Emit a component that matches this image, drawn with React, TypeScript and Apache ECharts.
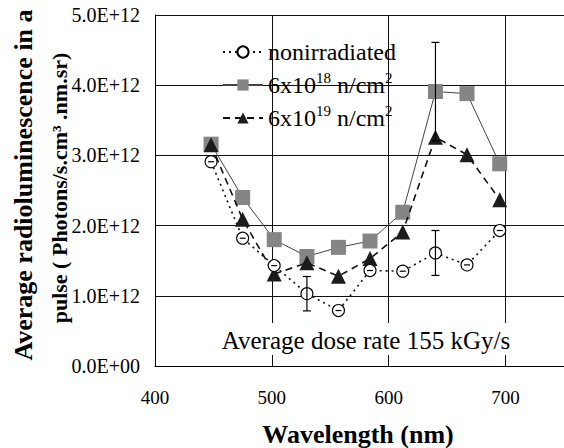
import React, { useEffect, useRef } from "react";
import * as echarts from "echarts";

// Wavelength (nm) of each measurement
const wavelengths = [448, 475, 502, 530, 557, 584, 612, 640, 667, 695];
// Average radioluminescence in a pulse (photons/s.cm3.nm.sr)
const nonirradiated = [2.91e12, 1.82e12, 1.43e12, 1.03e12, 0.79e12, 1.36e12, 1.35e12, 1.61e12, 1.44e12, 1.93e12];
const fluence18 = [3.16e12, 2.4e12, 1.8e12, 1.56e12, 1.69e12, 1.78e12, 2.19e12, 3.91e12, 3.88e12, 2.88e12];
const fluence19 = [3.15e12, 2.09e12, 1.31e12, 1.47e12, 1.28e12, 1.53e12, 1.91e12, 3.26e12, 3.01e12, 2.37e12];
// Error bars (half-length)
const nonirradiatedErr = [0, 0, 0, 0.245e12, 0, 0, 0, 0.32e12, 0, 0];
const fluence18Err = [0, 0, 0, 0, 0, 0, 0, 0.7e12, 0, 0];

const seriesNames = ["nonirradiated", "6x10^18 n/cm^2", "6x10^19 n/cm^2"];
const xTicks = { min: 400, max: 750, interval: 100 };
const yTicks = { min: 0, max: 5e12, interval: 1e12 };
const yTitleLines = ["Average radioluminescence in a", "pulse ( Photons/s.cm\u00B3 .nm.sr)"];

const SERIF = "Liberation Serif";

function fmtExp(v: number): string {
  if (v === 0) return "0.0E+00";
  const e = Math.floor(Math.log10(Math.abs(v)) + 1e-9);
  const m = v / Math.pow(10, e);
  return m.toFixed(1) + "E+" + String(e).padStart(2, "0");
}

function supFormat(name: string): string {
  return name.replace(/\^(\d+)/g, "{sup|$1}");
}

export default function App() {
  const ref = useRef<HTMLDivElement>(null);
  useEffect(() => {
    if (!ref.current) return;
    const chart = echarts.init(ref.current, undefined, { renderer: "svg" });

    const errRender = (withZero: boolean) => (params: any, api: any) => {
      const x = api.value(0);
      const y = api.value(1);
      const e = api.value(2);
      const half = 4;
      const style = { stroke: "#000", lineWidth: 1.2 };
      if (!e) {
        if (!withZero) return null;
        const c = api.coord([x, y]);
        return {
          type: "line",
          shape: { x1: c[0] - 3, y1: c[1], x2: c[0] + 3, y2: c[1] },
          style,
        };
      }
      const t = api.coord([x, y + e]);
      const b = api.coord([x, y - e]);
      return {
        type: "group",
        children: [
          { type: "line", shape: { x1: t[0], y1: t[1], x2: b[0], y2: b[1] }, style },
          { type: "line", shape: { x1: t[0] - half, y1: t[1], x2: t[0] + half, y2: t[1] }, style },
          { type: "line", shape: { x1: b[0] - half, y1: b[1], x2: b[0] + half, y2: b[1] }, style },
        ],
      };
    };

    const option: any = {
      animation: false,
      backgroundColor: "#fff",
      textStyle: { fontFamily: SERIF },
      grid: { left: 155, top: 15, right: -3, bottom: 82, containLabel: false },
      xAxis: {
        type: "value",
        min: xTicks.min,
        max: xTicks.max,
        interval: xTicks.interval,
        axisLine: { show: true, lineStyle: { color: "#000", width: 1 } },
        axisTick: { show: false },
        axisLabel: {
          color: "#000",
          fontSize: 19,
          fontFamily: SERIF,
          margin: 22,
          showMaxLabel: false,
        },
        splitLine: { show: true, lineStyle: { color: "#111", width: 1 } },
      },
      yAxis: {
        type: "value",
        min: yTicks.min,
        max: yTicks.max,
        interval: yTicks.interval,
        axisLine: { show: true, lineStyle: { color: "#000", width: 1 } },
        axisTick: { show: false },
        axisLabel: {
          color: "#000",
          fontSize: 20,
          fontFamily: SERIF,
          margin: 15,
          formatter: (v: number) => fmtExp(v),
        },
        splitLine: { show: true, lineStyle: { color: "#111", width: 1 } },
      },
      legend: {
        show: true,
        orient: "vertical",
        left: 217,
        top: 32,
        itemWidth: 40,
        itemHeight: 14,
        itemGap: 3,
        data: seriesNames,
        formatter: (name: string) => supFormat(name),
        textStyle: {
          color: "#000",
          fontFamily: SERIF,
          fontSize: 24,
          lineHeight: 30,
          rich: {
            sup: {
              fontSize: 15,
              fontFamily: SERIF,
              color: "#000",
              lineHeight: 15,
              verticalAlign: "top",
            },
          },
        },
      },
      graphic: [
        {
          type: "rect",
          z: 1,
          shape: { x: 216, y: 323, width: 300, height: 32 },
          style: { fill: "#fff" },
        },
        {
          type: "text",
          z: 1,
          x: 366,
          y: 340,
          style: {
            text: "Average dose rate 155 kGy/s",
            fontFamily: SERIF,
            fontSize: 25,
            fill: "#000",
            align: "center",
            verticalAlign: "middle",
          },
        },
        {
          type: "text",
          x: 358,
          y: 434,
          style: {
            text: "Wavelength (nm)",
            fontFamily: SERIF,
            fontSize: 26,
            fontWeight: "bold",
            fill: "#000",
            align: "center",
            verticalAlign: "middle",
          },
        },
        {
          type: "text",
          x: 23,
          y: 185,
          rotation: Math.PI / 2,
          style: {
            text: yTitleLines[0],
            fontFamily: SERIF,
            fontSize: 26,
            fontWeight: "bold",
            fill: "#000",
            align: "center",
            verticalAlign: "middle",
          },
        },
        {
          type: "text",
          x: 59,
          y: 188,
          rotation: Math.PI / 2,
          style: {
            text: yTitleLines[1],
            fontFamily: SERIF,
            fontSize: 22,
            fontWeight: "bold",
            fill: "#000",
            align: "center",
            verticalAlign: "middle",
          },
        },
      ],
      series: [
        {
          name: seriesNames[1],
          type: "line",
          z: 2,
          data: wavelengths.map((w, i) => [w, fluence18[i]]),
          symbol: "rect",
          symbolSize: 15,
          lineStyle: { color: "#444", width: 1, type: "solid" },
          itemStyle: { color: "#858585", borderWidth: 0 },
        },
        {
          name: seriesNames[2],
          type: "line",
          z: 3,
          data: wavelengths.map((w, i) => [w, fluence19[i]]),
          symbol: "triangle",
          symbolSize: 15,
          lineStyle: { color: "#111", width: 1.6, type: [7, 5] },
          itemStyle: { color: "#1c1c1c", borderWidth: 0 },
        },
        {
          name: seriesNames[0],
          type: "line",
          z: 4,
          data: wavelengths.map((w, i) => [w, nonirradiated[i]]),
          symbol: "circle",
          symbolSize: 12,
          lineStyle: { color: "#111", width: 1.6, type: [2, 4] },
          itemStyle: { color: "#fff", borderColor: "#000", borderWidth: 1.1 },
        },
        {
          type: "custom",
          z: 5,
          renderItem: errRender(true),
          data: wavelengths.map((w, i) => [w, nonirradiated[i], nonirradiatedErr[i]]),
        },
        {
          type: "custom",
          z: 5,
          renderItem: errRender(false),
          data: wavelengths.map((w, i) => [w, fluence18[i], fluence18Err[i]]),
        },
      ],
    };
    chart.setOption(option);
    return () => chart.dispose();
  }, []);

  return <div ref={ref} style={{ width: 564, height: 448, position: "absolute", left: 0, top: 0 }} />;
}
